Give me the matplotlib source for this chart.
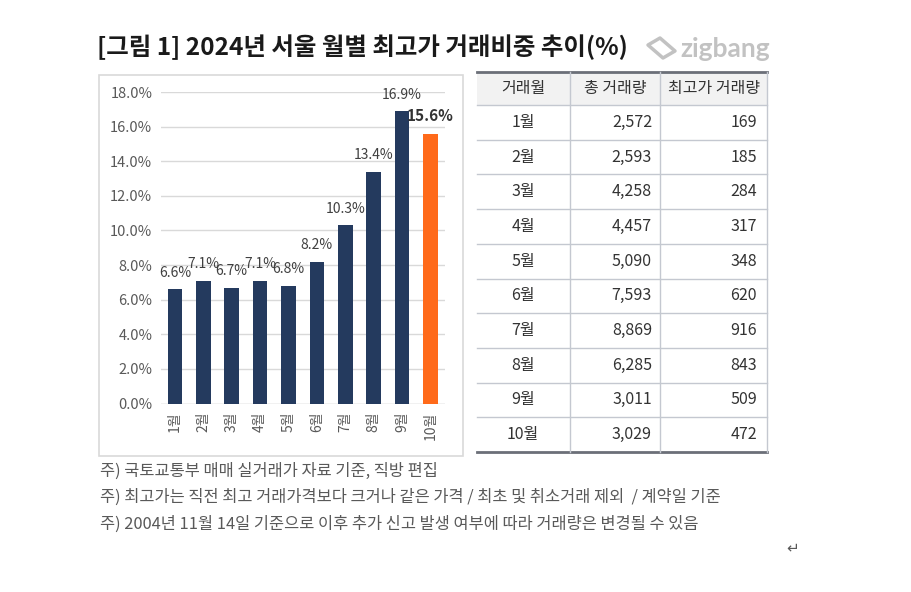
import matplotlib
matplotlib.use('Agg')
import matplotlib.pyplot as plt
from matplotlib.patches import Rectangle, Polygon

plt.rcParams['font.family'] = ['Noto Sans CJK KR', 'DejaVu Sans']

# data
months = ['1월', '2월', '3월', '4월', '5월', '6월', '7월', '8월', '9월', '10월']
share = [6.6, 7.1, 6.7, 7.1, 6.8, 8.2, 10.3, 13.4, 16.9, 15.6]
total_deals = ['2,572', '2,593', '4,258', '4,457', '5,090', '7,593', '8,869', '6,285', '3,011', '3,029']
high_deals = ['169', '185', '284', '317', '348', '620', '916', '843', '509', '472']
table_header = ['거래월', '총 거래량', '최고가 거래량']
y_ticks = [0, 2, 4, 6, 8, 10, 12, 14, 16, 18]

title = '[그림 1] 2024년 서울 월별 최고가 거래비중 추이(%)'
notes = [
    '주) 국토교통부 매매 실거래가 자료 기준, 직방 편집',
    '주) 최고가는 직전 최고 거래가격보다 크거나 같은 가격 / 최초 및 취소거래 제외  / 계약일 기준',
    '주) 2004년 11월 14일 기준으로 이후 추가 신고 발생 여부에 따라 거래량은 변경될 수 있음',
]

W, H = 912, 592
fig = plt.figure(figsize=(W / 100, H / 100), dpi=100)

# overlay in pixel coords for frame, table and texts
bg = fig.add_axes([0, 0, 1, 1])
bg.set_xlim(0, W)
bg.set_ylim(H, 0)
bg.axis('off')

# chart frame
bg.add_patch(Rectangle((99, 75), 364, 381, fill=False, edgecolor='#d9d9d9', lw=1.2))

# title + logo
bg.text(97, 47, title, fontsize=17.6, fontweight='bold', color='#1a1a1a', va='center', ha='left')
bg.text(680, 49, 'zigbang', fontsize=19, fontweight='bold', color='#c2c2c2', va='center',
        ha='left', family=['Lato', 'DejaVu Sans'])
bg.add_patch(Polygon([(648, 45), (660, 38), (675, 51), (663, 58)], closed=True, fill=False,
                     edgecolor='#c2c2c2', lw=2.5, joinstyle='round'))

# bar chart
ax = fig.add_axes([160.7 / W, 1 - 403.5 / H, (445 - 160.7) / W, (403.5 - 92) / H])
x = list(range(len(months)))
colors = ['#243a5e'] * (len(months) - 1) + ['#ff6a1a']
ax.bar(x, share, width=0.51, color=colors, zorder=3)
ax.set_ylim(0, 18)
ax.set_xlim(-0.5, 9.51)
ax.set_yticks(y_ticks)
ax.set_yticklabels([f'{v:.1f}%' for v in y_ticks], fontsize=10.5, color='#595959')
ax.set_xticks(x)
ax.set_xticklabels(months, rotation=90, fontsize=10, color='#595959')
ax.grid(axis='y', color='#d9d9d9', lw=1, zorder=0)
ax.tick_params(length=0, pad=6)
for s in ax.spines.values():
    s.set_visible(False)
ax.axhline(0, color='#d9d9d9', lw=1, zorder=2)
for i, v in enumerate(share):
    if i == len(share) - 1:
        ax.annotate(f'{v}%', (i, v), xytext=(0, 9), textcoords='offset points',
                    ha='center', fontsize=11, fontweight='bold', color='#333333')
    else:
        ax.annotate(f'{v}%', (i, v), xytext=(0, 9), textcoords='offset points',
                    ha='center', fontsize=10, color='#404040')

# table
tx = [477, 570, 660, 767]
top, head_bot, bottom = 72, 105, 452
row_h = (bottom - head_bot) / len(months)
bg.add_patch(Rectangle((tx[0], top), tx[-1] - tx[0], head_bot - top, color='#f2f2f2', lw=0))
bg.plot([tx[0], tx[-1]], [top, top], color='#6b6f78', lw=2)
bg.plot([tx[0], tx[-1]], [bottom, bottom], color='#6b6f78', lw=2)
bg.plot([tx[0], tx[-1]], [head_bot, head_bot], color='#c4c8d0', lw=1)
for r in range(1, len(months)):
    yy = head_bot + r * row_h
    bg.plot([tx[0], tx[-1]], [yy, yy], color='#c4c8d0', lw=1)
for xx in tx[1:]:
    bg.plot([xx, xx], [top, bottom], color='#c4c8d0', lw=1)

hc = (top + head_bot) / 2
tkw = dict(va='center', fontsize=11.5, color='#333333')
bg.text(523, hc, table_header[0], ha='center', **tkw)
bg.text(615, hc, table_header[1], ha='center', **tkw)
bg.text(714, hc, table_header[2], ha='center', **tkw)
for r in range(len(months)):
    yc = head_bot + (r + 0.5) * row_h
    bg.text(523, yc, months[r], ha='center', **tkw)
    bg.text(652, yc, total_deals[r], ha='right', **tkw)
    bg.text(757, yc, high_deals[r], ha='right', **tkw)

# footnotes
for k, n in enumerate(notes):
    bg.text(100, 471 + k * 26.5, n, fontsize=11.8, color='#595959', va='center', ha='left')
bg.text(793, 548, '↵', fontsize=11, color='#595959', va='center', ha='center',
        family=['DejaVu Sans'])

fig.savefig('out.png', dpi=100)
